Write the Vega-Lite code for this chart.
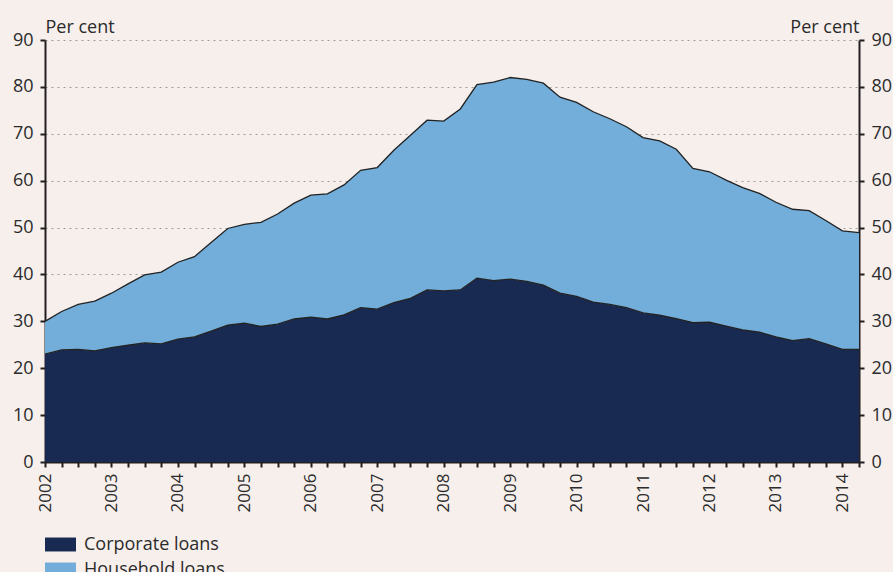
{
  "$schema": "https://vega.github.io/schema/vega-lite/v6.json",
  "width": 814,
  "height": 422,
  "autosize": {"type": "none"},
  "padding": {"left": 45, "top": 40, "right": 34, "bottom": 110},
  "background": "#f6efec",
  "config": {
    "view": {"stroke": null},
    "font": "Open Sans",
    "axis": {
      "labelFont": "Open Sans",
      "labelFontSize": 18,
      "labelColor": "#2b2b2b",
      "domainColor": "#231f20",
      "domainWidth": 2,
      "tickColor": "#231f20",
      "tickWidth": 2,
      "tickSize": 5,
      "titleFont": "Open Sans",
      "titleFontSize": 18,
      "titleFontWeight": "normal",
      "titleColor": "#2b2b2b"
    },
    "legend": {
      "labelFont": "Open Sans",
      "labelFontSize": 18,
      "labelColor": "#2b2b2b"
    }
  },
  "data": {
    "values": [
      {"q": 2002.0, "series": "Corporate loans", "value": 23.0},
      {"q": 2002.25, "series": "Corporate loans", "value": 23.9},
      {"q": 2002.5, "series": "Corporate loans", "value": 24.0},
      {"q": 2002.75, "series": "Corporate loans", "value": 23.7},
      {"q": 2003.0, "series": "Corporate loans", "value": 24.4},
      {"q": 2003.25, "series": "Corporate loans", "value": 24.9},
      {"q": 2003.5, "series": "Corporate loans", "value": 25.4},
      {"q": 2003.75, "series": "Corporate loans", "value": 25.2},
      {"q": 2004.0, "series": "Corporate loans", "value": 26.2},
      {"q": 2004.25, "series": "Corporate loans", "value": 26.7},
      {"q": 2004.5, "series": "Corporate loans", "value": 27.9},
      {"q": 2004.75, "series": "Corporate loans", "value": 29.2},
      {"q": 2005.0, "series": "Corporate loans", "value": 29.6},
      {"q": 2005.25, "series": "Corporate loans", "value": 28.9},
      {"q": 2005.5, "series": "Corporate loans", "value": 29.4},
      {"q": 2005.75, "series": "Corporate loans", "value": 30.5},
      {"q": 2006.0, "series": "Corporate loans", "value": 30.9},
      {"q": 2006.25, "series": "Corporate loans", "value": 30.5},
      {"q": 2006.5, "series": "Corporate loans", "value": 31.4},
      {"q": 2006.75, "series": "Corporate loans", "value": 32.9},
      {"q": 2007.0, "series": "Corporate loans", "value": 32.6},
      {"q": 2007.25, "series": "Corporate loans", "value": 34.0},
      {"q": 2007.5, "series": "Corporate loans", "value": 34.9},
      {"q": 2007.75, "series": "Corporate loans", "value": 36.7},
      {"q": 2008.0, "series": "Corporate loans", "value": 36.5},
      {"q": 2008.25, "series": "Corporate loans", "value": 36.7},
      {"q": 2008.5, "series": "Corporate loans", "value": 39.2},
      {"q": 2008.75, "series": "Corporate loans", "value": 38.7},
      {"q": 2009.0, "series": "Corporate loans", "value": 39.0},
      {"q": 2009.25, "series": "Corporate loans", "value": 38.5},
      {"q": 2009.5, "series": "Corporate loans", "value": 37.7},
      {"q": 2009.75, "series": "Corporate loans", "value": 36.0},
      {"q": 2010.0, "series": "Corporate loans", "value": 35.3},
      {"q": 2010.25, "series": "Corporate loans", "value": 34.1},
      {"q": 2010.5, "series": "Corporate loans", "value": 33.6},
      {"q": 2010.75, "series": "Corporate loans", "value": 32.9},
      {"q": 2011.0, "series": "Corporate loans", "value": 31.8},
      {"q": 2011.25, "series": "Corporate loans", "value": 31.3},
      {"q": 2011.5, "series": "Corporate loans", "value": 30.6},
      {"q": 2011.75, "series": "Corporate loans", "value": 29.7},
      {"q": 2012.0, "series": "Corporate loans", "value": 29.8},
      {"q": 2012.25, "series": "Corporate loans", "value": 29.0},
      {"q": 2012.5, "series": "Corporate loans", "value": 28.2},
      {"q": 2012.75, "series": "Corporate loans", "value": 27.7},
      {"q": 2013.0, "series": "Corporate loans", "value": 26.7},
      {"q": 2013.25, "series": "Corporate loans", "value": 25.9},
      {"q": 2013.5, "series": "Corporate loans", "value": 26.3},
      {"q": 2013.75, "series": "Corporate loans", "value": 25.2},
      {"q": 2014.0, "series": "Corporate loans", "value": 24.0},
      {"q": 2014.25, "series": "Corporate loans", "value": 24.0},
      {"q": 2002.0, "series": "Household loans", "value": 7.0},
      {"q": 2002.25, "series": "Household loans", "value": 8.2},
      {"q": 2002.5, "series": "Household loans", "value": 9.6},
      {"q": 2002.75, "series": "Household loans", "value": 10.6},
      {"q": 2003.0, "series": "Household loans", "value": 11.6},
      {"q": 2003.25, "series": "Household loans", "value": 13.1},
      {"q": 2003.5, "series": "Household loans", "value": 14.5},
      {"q": 2003.75, "series": "Household loans", "value": 15.3},
      {"q": 2004.0, "series": "Household loans", "value": 16.4},
      {"q": 2004.25, "series": "Household loans", "value": 17.1},
      {"q": 2004.5, "series": "Household loans", "value": 18.9},
      {"q": 2004.75, "series": "Household loans", "value": 20.6},
      {"q": 2005.0, "series": "Household loans", "value": 21.1},
      {"q": 2005.25, "series": "Household loans", "value": 22.2},
      {"q": 2005.5, "series": "Household loans", "value": 23.5},
      {"q": 2005.75, "series": "Household loans", "value": 24.7},
      {"q": 2006.0, "series": "Household loans", "value": 26.0},
      {"q": 2006.25, "series": "Household loans", "value": 26.7},
      {"q": 2006.5, "series": "Household loans", "value": 27.7},
      {"q": 2006.75, "series": "Household loans", "value": 29.3},
      {"q": 2007.0, "series": "Household loans", "value": 30.2},
      {"q": 2007.25, "series": "Household loans", "value": 32.5},
      {"q": 2007.5, "series": "Household loans", "value": 34.8},
      {"q": 2007.75, "series": "Household loans", "value": 36.2},
      {"q": 2008.0, "series": "Household loans", "value": 36.2},
      {"q": 2008.25, "series": "Household loans", "value": 38.6},
      {"q": 2008.5, "series": "Household loans", "value": 41.3},
      {"q": 2008.75, "series": "Household loans", "value": 42.3},
      {"q": 2009.0, "series": "Household loans", "value": 43.0},
      {"q": 2009.25, "series": "Household loans", "value": 43.1},
      {"q": 2009.5, "series": "Household loans", "value": 43.1},
      {"q": 2009.75, "series": "Household loans", "value": 41.8},
      {"q": 2010.0, "series": "Household loans", "value": 41.4},
      {"q": 2010.25, "series": "Household loans", "value": 40.6},
      {"q": 2010.5, "series": "Household loans", "value": 39.6},
      {"q": 2010.75, "series": "Household loans", "value": 38.6},
      {"q": 2011.0, "series": "Household loans", "value": 37.4},
      {"q": 2011.25, "series": "Household loans", "value": 37.2},
      {"q": 2011.5, "series": "Household loans", "value": 36.1},
      {"q": 2011.75, "series": "Household loans", "value": 32.9},
      {"q": 2012.0, "series": "Household loans", "value": 32.1},
      {"q": 2012.25, "series": "Household loans", "value": 31.1},
      {"q": 2012.5, "series": "Household loans", "value": 30.3},
      {"q": 2012.75, "series": "Household loans", "value": 29.6},
      {"q": 2013.0, "series": "Household loans", "value": 28.7},
      {"q": 2013.25, "series": "Household loans", "value": 28.0},
      {"q": 2013.5, "series": "Household loans", "value": 27.3},
      {"q": 2013.75, "series": "Household loans", "value": 26.3},
      {"q": 2014.0, "series": "Household loans", "value": 25.3},
      {"q": 2014.25, "series": "Household loans", "value": 24.9}
    ]
  },
  "encoding": {
    "x": {
      "field": "q",
      "type": "quantitative",
      "scale": {"domain": [2002, 2014.25], "nice": false, "zero": false},
      "axis": {
        "title": null,
        "values": [2002, 2002.25, 2002.5, 2002.75, 2003, 2003.25, 2003.5, 2003.75, 2004, 2004.25, 2004.5, 2004.75, 2005, 2005.25, 2005.5, 2005.75, 2006, 2006.25, 2006.5, 2006.75, 2007, 2007.25, 2007.5, 2007.75, 2008, 2008.25, 2008.5, 2008.75, 2009, 2009.25, 2009.5, 2009.75, 2010, 2010.25, 2010.5, 2010.75, 2011, 2011.25, 2011.5, 2011.75, 2012, 2012.25, 2012.5, 2012.75, 2013, 2013.25, 2013.5, 2013.75, 2014, 2014.25],
        "labelExpr": "datum.value % 1 === 0 ? format(datum.value, 'd') : ''",
        "labelAngle": -90,
        "labelFontSize": 17,
        "labelOverlap": false,
        "labelBound": false,
        "labelFlush": false,
        "labelPadding": 6,
        "grid": false
      }
    }
  },
  "layer": [
    {
      "mark": {"type": "area", "opacity": 1},
      "encoding": {
        "y": {
          "field": "value",
          "type": "quantitative",
          "stack": "zero",
          "scale": {"domain": [0, 90], "nice": false},
          "axis": {
            "orient": "left",
            "values": [0, 10, 20, 30, 40, 50, 60, 70, 80, 90],
            "grid": true,
            "gridColor": "#9a9a9a",
            "gridDash": [2, 4],
            "gridWidth": 1,
            "labelPadding": 7,
            "title": "Per cent",
            "titleAngle": 0,
            "titleAlign": "left",
            "titleBaseline": "alphabetic",
            "titleX": 0,
            "titleY": -8
          }
        },
        "color": {
          "field": "series",
          "type": "nominal",
          "scale": {"domain": ["Corporate loans", "Household loans"], "range": ["#192a52", "#72aed9"]},
          "legend": {
            "title": null,
            "orient": "none",
            "legendX": 0,
            "legendY": 489,
            "direction": "vertical",
            "symbolType": "M-1,-0.45H1V0.45H-1Z",
            "symbolSize": 961,
            "symbolStrokeWidth": 0,
            "symbolOpacity": 1,
            "labelOffset": 8,
            "rowPadding": -3,
            "padding": 0
          }
        },
        "order": {"field": "series", "sort": "ascending"}
      }
    },
    {
      "transform": [
        {"stack": "value", "groupby": ["q"], "sort": [{"field": "series", "order": "ascending"}], "as": ["v0", "v1"]}
      ],
      "mark": {"type": "line", "color": "#222222", "strokeWidth": 1.3},
      "encoding": {
        "y": {
          "field": "v1",
          "type": "quantitative",
          "scale": {"domain": [0, 90], "nice": false},
          "axis": {
            "orient": "right",
            "values": [0, 10, 20, 30, 40, 50, 60, 70, 80, 90],
            "grid": false,
            "labelPadding": 7,
            "title": "Per cent",
            "titleAngle": 0,
            "titleAlign": "right",
            "titleBaseline": "alphabetic",
            "titleX": 0,
            "titleY": -8
          }
        },
        "detail": {"field": "series", "type": "nominal"}
      }
    }
  ],
  "resolve": {"axis": {"y": "independent"}}
}
